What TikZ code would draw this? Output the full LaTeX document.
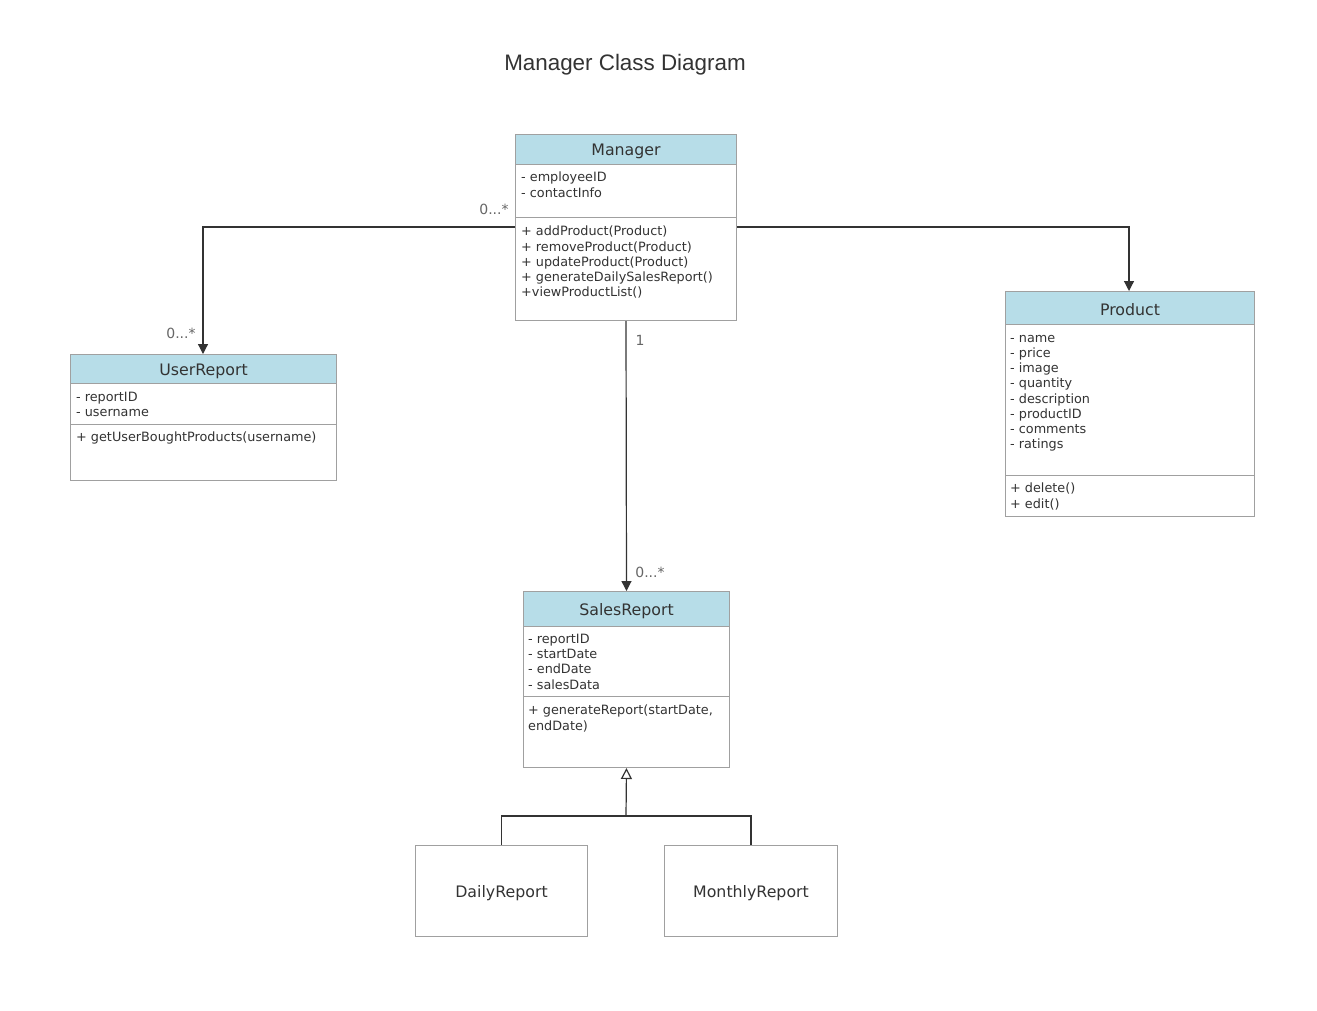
\documentclass[tikz,border=0pt]{standalone}
\usepackage{fontspec}
\setmainfont{DejaVu Sans}
\newfontfamily\titlefont{Liberation Sans}
\usetikzlibrary{arrows.meta}
\definecolor{hdr}{HTML}{B7DDE8}
\definecolor{bord}{HTML}{A0A0A0}
\definecolor{lnk}{HTML}{333333}
\definecolor{txt}{HTML}{333333}
\definecolor{lbl}{HTML}{666666}
\tikzset{
  boxframe/.style={draw=bord, line width=1pt, fill=white, minimum width=#1, inner sep=0pt, anchor=north west},
  hdrbox/.style={draw=bord, line width=1pt, fill=hdr, inner sep=0pt, anchor=north west},
  hdrtext/.style={font=\fontsize{15.8}{18}\selectfont, text=txt, yshift=-2pt},
  membertext/.style={font=\fontsize{12.8}{15.2}\selectfont, text=txt, align=left, anchor=north west, inner sep=0pt},
  divider/.style={draw=bord, line width=1pt},
  conn/.style={draw=lnk, line width=1.2pt},
  assoc/.style={conn, -{Triangle[length=10pt,width=10pt]}},
  inherit/.style={conn, -{Triangle[open,length=11pt,width=11pt,fill=white]}},
  mult/.style={font=\fontsize{14}{16}\selectfont, text=lbl, inner sep=0pt},
}
\begin{document}
\begin{tikzpicture}[x=1pt,y=-1pt]
\useasboundingbox[fill=white] (0,0) rectangle (1317,1010);
\node[font=\titlefont\fontsize{22.4}{26}\selectfont, text=txt] (title) at (625,65) {Manager Class Diagram};

% Manager
\node[boxframe=221pt, minimum height=186pt] (mgr) at (515,134) {};
\node[hdrbox, minimum width=221pt, minimum height=30pt] (mgrh) at (515,134) {};
\node[hdrtext] (mgrt) at (mgrh.center) {Manager};
\draw[divider] (515,217) -- (736,217);
\node[membertext] (mgra) at (521,172) {- employeeID\\- contactInfo};
\node[membertext] (mgrm) at (521,226) {+ addProduct(Product)\\+ removeProduct(Product)\\+ updateProduct(Product)\\+ generateDailySalesReport()\\+viewProductList()};

% UserReport
\node[boxframe=266pt, minimum height=126pt] (ur) at (70,354) {};
\node[hdrbox, minimum width=266pt, minimum height=29pt] (urh) at (70,354) {};
\node[hdrtext] (urt) at (urh.center) {UserReport};
\draw[divider] (70,424) -- (336,424);
\node[membertext] (ura) at (76,392) {- reportID\\- username};
\node[membertext] (urm) at (76,432) {+ getUserBoughtProducts(username)};

% Product
\node[boxframe=249pt, minimum height=225pt] (prod) at (1005,291) {};
\node[hdrbox, minimum width=249pt, minimum height=33pt] (prodh) at (1005,291) {};
\node[hdrtext] (prodt) at (prodh.center) {Product};
\draw[divider] (1005,475) -- (1254,475);
\node[membertext] (proda) at (1010,335) {- name\\- price\\- image\\- quantity\\- description\\- productID\\- comments\\- ratings};
\node[membertext] (prodm) at (1010,483) {+ delete()\\+ edit()};

% SalesReport
\node[boxframe=206pt, minimum height=176pt] (sr) at (523,591) {};
\node[hdrbox, minimum width=206pt, minimum height=35pt] (srh) at (523,591) {};
\node[hdrtext] (srt) at (srh.center) {SalesReport};
\draw[divider] (523,696) -- (729,696);
\node[membertext] (sra) at (528,634) {- reportID\\- startDate\\- endDate\\- salesData};
\node[membertext] (srm) at (528,705) {+ generateReport(startDate,\\endDate)};

% Daily / Monthly
\node[boxframe=172pt, minimum height=91pt] (daily) at (415,845) {};
\node[hdrtext] (dailyt) at (daily.center) {DailyReport};
\node[boxframe=173pt, minimum height=91pt] (monthly) at (664,845) {};
\node[hdrtext] (monthlyt) at (monthly.center) {MonthlyReport};

% connectors
\coordinate (jl) at (203,227);
\coordinate (jr) at (1129,227);
\draw[assoc] (mgr.west |- jl) -- (jl) -- (ur.north -| jl);
\draw[assoc] (mgr.east |- jr) -- (jr) -- (prod.north -| jr);
\draw[assoc] (mgr.south) -- (sr.north);
\coordinate (jm) at (626,816);
\draw[conn] (daily.north) -- (daily.north |- jm) -- (monthly.north |- jm) -- (monthly.north);
\draw[inherit] (jm) -- (sr.south);

% multiplicities
\node[mult] (m1) at (494,209) {0...*};
\node[mult] (m2) at (181,333) {0...*};
\node[mult] (m3) at (640,340) {1};
\node[mult] (m4) at (650,572) {0...*};
\end{tikzpicture}
\end{document}
